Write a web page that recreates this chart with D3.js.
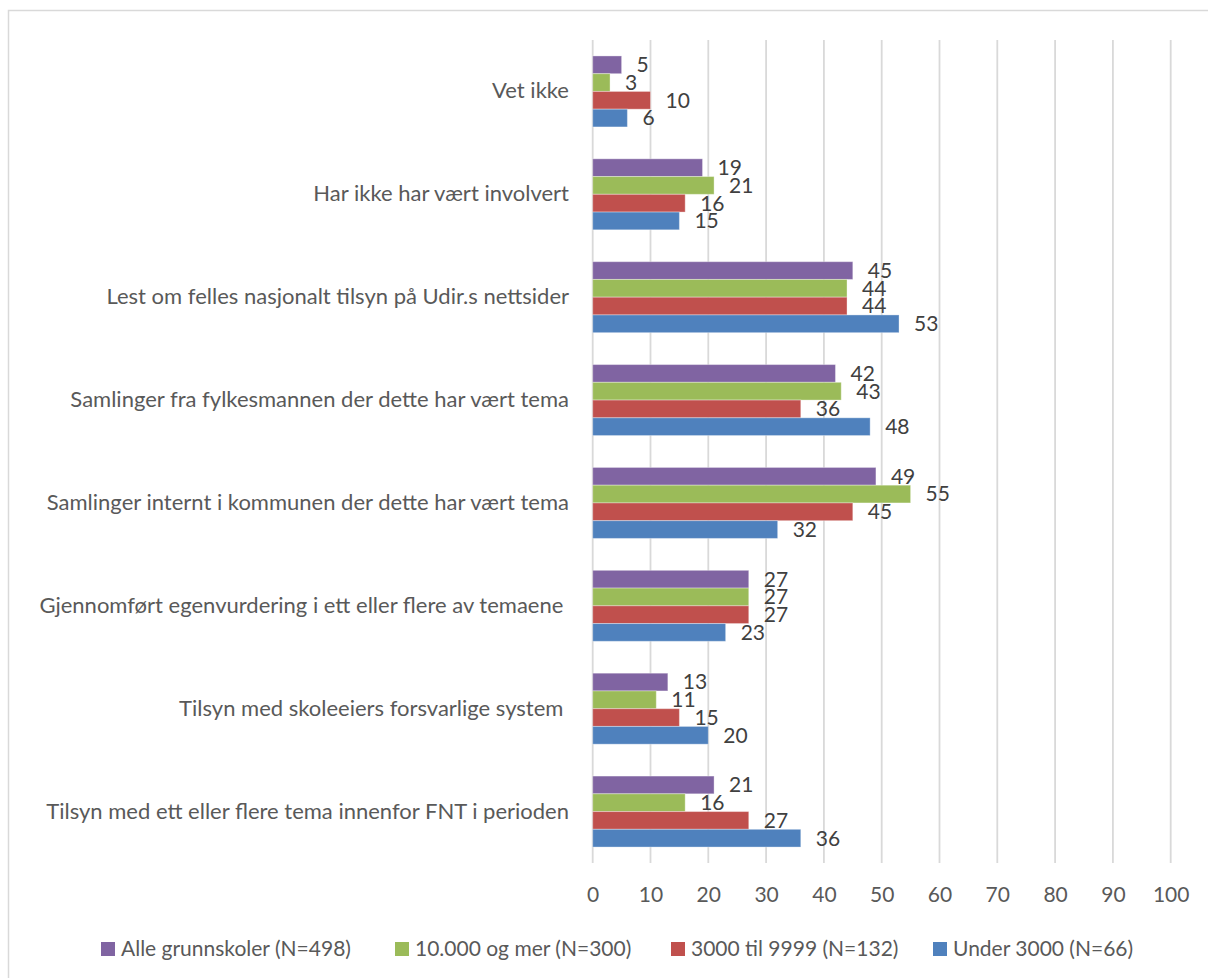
<!DOCTYPE html>
<html>
<head>
<meta charset="utf-8">
<script src="https://cdn.jsdelivr.net/npm/d3@7"></script>
<style>
  body { margin: 0; background: #fff; }
  svg { display: block; font-family: Lato, "Open Sans", sans-serif; }
</style>
</head>
<body>
<svg width="1208" height="978"></svg>
<script>
// Categories, top to bottom
const categories = [
    "Vet ikke",
    "Har ikke har vært involvert",
    "Lest om felles nasjonalt tilsyn på Udir.s nettsider",
    "Samlinger fra fylkesmannen der dette har vært tema",
    "Samlinger internt i kommunen der dette har vært tema",
    "Gjennomført egenvurdering i ett eller flere av temaene ",
    "Tilsyn med skoleeiers forsvarlige system ",
    "Tilsyn med ett eller flere tema innenfor FNT i perioden"
];

// Series names (legend order) and values per category
const seriesNames = ["Alle grunnskoler (N=498)", "10.000 og mer (N=300)", "3000 til 9999 (N=132)", "Under 3000 (N=66)"];
const alle = [5, 19, 45, 42, 49, 27, 13, 21];
const over10000 = [3, 21, 44, 43, 55, 27, 11, 16];
const mellom3000 = [10, 16, 44, 36, 45, 27, 15, 27];
const under3000 = [6, 15, 53, 48, 32, 23, 20, 36];
const seriesColors = ["#8064A2", "#9BBB59", "#C0504D", "#4F81BD"];
const xTicks = [0, 10, 20, 30, 40, 50, 60, 70, 80, 90, 100];

const seriesValues = [alle, over10000, mellom3000, under3000];

// legend item left edges (layout)
const legendX = [101, 395, 671, 933];

const svg = d3.select("svg");

// Outer chart border (cropped on right/bottom)
svg.append("rect")
    .attr("x", 8.5).attr("y", 10.5)
    .attr("width", 1300).attr("height", 1000)
    .attr("fill", "none")
    .attr("stroke", "#d9d9d9")
    .attr("stroke-width", 1.5);

// Scales
const x = d3.scaleLinear().domain([0, 100]).range([592.7, 1170.7]);
const y0 = d3.scaleBand().domain(categories).range([40, 863]).paddingInner(0.31).paddingOuter(0.155);
const y1 = d3.scaleBand().domain(d3.range(seriesNames.length)).range([0, y0.bandwidth()]);

// Gridlines
svg.append("g")
    .selectAll("line")
    .data(xTicks)
    .join("line")
    .attr("x1", d => x(d)).attr("x2", d => x(d))
    .attr("y1", 40).attr("y2", 863)
    .attr("stroke", "#d9d9d9")
    .attr("stroke-width", 1.8);

// X axis tick labels
const xAxis = svg.append("g")
    .attr("transform", "translate(0,863)")
    .call(d3.axisBottom(x).tickValues(xTicks).tickSize(0).tickPadding(24));
xAxis.select(".domain").remove();
xAxis.selectAll("text")
    .attr("fill", "#595959")
    .style("font-size", "21px")
    .style("font-family", "Lato, 'Open Sans', sans-serif");

// Category labels
const yAxis = svg.append("g")
    .attr("transform", "translate(569,0)")
    .call(d3.axisLeft(y0).tickSize(0).tickPadding(0));
yAxis.select(".domain").remove();
yAxis.selectAll("text")
    .attr("fill", "#595959")
    .style("font-size", "22px")
    .style("white-space", "pre")
    .style("font-family", "Lato, 'Open Sans', sans-serif");

// Bars
const rows = categories.map((c, i) => ({
    cat: c,
    vals: seriesValues.map((s, k) => ({ k: k, v: s[i] }))
}));

const groups = svg.append("g")
    .selectAll("g")
    .data(rows)
    .join("g")
    .attr("transform", d => `translate(0,${y0(d.cat)})`);

groups.selectAll("rect")
    .data(d => d.vals)
    .join("rect")
    .attr("x", x(0))
    .attr("y", d => y1(d.k))
    .attr("width", d => x(d.v) - x(0))
    .attr("height", y1.bandwidth())
    .attr("fill", d => seriesColors[d.k])
    .attr("stroke", "#ffffff")
    .attr("stroke-opacity", 0.35)
    .attr("stroke-width", 1);

groups.selectAll("text")
    .data(d => d.vals)
    .join("text")
    .attr("x", d => x(d.v) + 15)
    .attr("y", d => y1(d.k) + y1.bandwidth() / 2)
    .attr("dy", "0.35em")
    .attr("fill", "#404040")
    .style("font-size", "21px")
    .text(d => d.v);

// Legend
const legend = svg.append("g").attr("transform", "translate(0,949)");
seriesNames.forEach((name, k) => {
    const item = legend.append("g").attr("transform", `translate(${legendX[k]},0)`);
    item.append("rect")
        .attr("x", 0).attr("y", -7)
        .attr("width", 14).attr("height", 14)
        .attr("fill", seriesColors[k]);
    item.append("text")
        .attr("x", 20).attr("dy", "0.35em")
        .attr("fill", "#595959")
        .style("font-size", "21px")
        .text(name);
});
</script>
</body>
</html>
